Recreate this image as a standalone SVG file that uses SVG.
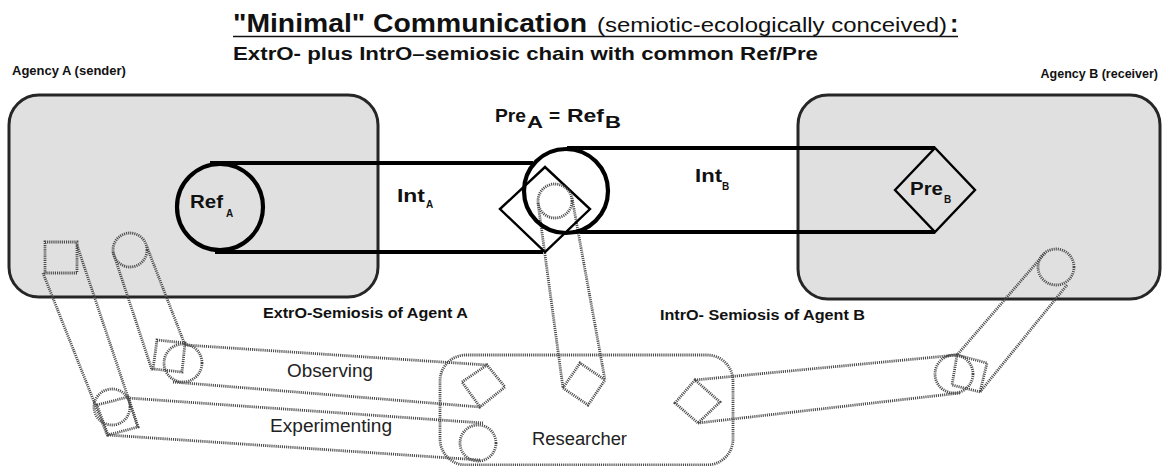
<svg xmlns="http://www.w3.org/2000/svg" width="1164" height="466" viewBox="0 0 1164 466">
<style>
text{font-family:"Liberation Sans",Arial,sans-serif;fill:#111}
.b{font-weight:bold}
.agency{fill:#e0e0e0;stroke:#262626;stroke-width:3}
.thick{fill:none;stroke:#000;stroke-width:4.2}
.thin{fill:none;stroke:#000;stroke-width:2.4}
.dot{fill:none;stroke:#4a4a4a;stroke-width:2.8;stroke-dasharray:1.1 1}
.lbl{font-size:18px;fill:#222}
</style>
<rect width="1164" height="466" fill="#fff"/>
<g id="title">
<text x="233" y="32" class="b" font-size="25" textLength="354" lengthAdjust="spacingAndGlyphs">"Minimal" Communication</text>
<text x="597" y="32" font-size="20" textLength="350" lengthAdjust="spacingAndGlyphs">(semiotic-ecologically conceived)</text>
<text x="950" y="32" class="b" font-size="25">:</text>
<line x1="233" y1="36.5" x2="958" y2="36.5" stroke="#111" stroke-width="1.5"/>
<text x="233" y="60" class="b" font-size="19" textLength="585" lengthAdjust="spacingAndGlyphs">ExtrO- plus IntrO–semiosic chain with common Ref/Pre</text>
</g>
<g id="agencyA">
<rect class="agency" x="9" y="95" width="369" height="202" rx="30"/>
<text x="12" y="75" class="b" font-size="13">Agency A (sender)</text>
</g>
<g id="agencyB">
<rect class="agency" x="798" y="95" width="362" height="204" rx="30"/>
<text x="1158" y="78" class="b" font-size="12.5" text-anchor="end">Agency B (receiver)</text>
</g>
<g id="researcher">
<rect class="dot" x="440" y="355" width="293" height="110" rx="26"/>
<text x="532" y="445" class="lbl" textLength="95" lengthAdjust="spacingAndGlyphs">Researcher</text>
</g>
<g id="connectors">
<line class="thick" x1="210" y1="163" x2="533" y2="163"/>
<line class="thick" x1="215" y1="252" x2="543" y2="252"/>
<line class="thick" x1="567" y1="148" x2="935" y2="148"/>
<line class="thick" x1="573" y1="232" x2="935" y2="232"/>
<line class="dot" x1="43" y1="273" x2="108" y2="437"/>
<line class="dot" x1="77" y1="245" x2="138" y2="427"/>
<line class="dot" x1="113" y1="252" x2="152" y2="370"/>
<line class="dot" x1="147" y1="247" x2="185" y2="345"/>
<line class="dot" x1="185" y1="345" x2="487" y2="365"/>
<line class="dot" x1="173" y1="382" x2="480" y2="407"/>
<line class="dot" x1="128" y1="398" x2="483" y2="423"/>
<line class="dot" x1="108" y1="435" x2="480" y2="460"/>
<line class="dot" x1="538" y1="203" x2="563" y2="388"/>
<line class="dot" x1="572" y1="198" x2="605" y2="380"/>
<line class="dot" x1="695" y1="380" x2="957" y2="355"/>
<line class="dot" x1="698" y1="423" x2="960" y2="393"/>
<line class="dot" x1="1045" y1="253" x2="957" y2="355"/>
<line class="dot" x1="1067" y1="285" x2="980" y2="392"/>
</g>
<g id="refA">
<circle class="thick" cx="220" cy="207" r="43"/>
<text x="190" y="208" class="b" font-size="19" textLength="33" lengthAdjust="spacingAndGlyphs">Ref</text>
<text x="226" y="217" class="b" font-size="10">A</text>
</g>
<g id="intA">
<text x="397" y="202" class="b" font-size="19" textLength="28" lengthAdjust="spacingAndGlyphs">Int</text>
<text x="426" y="208" class="b" font-size="10">A</text>
</g>
<g id="intB">
<text x="695" y="182" class="b" font-size="19" textLength="27" lengthAdjust="spacingAndGlyphs">Int</text>
<text x="722" y="190" class="b" font-size="10">B</text>
</g>
<g id="preA">
<polygon class="thin" points="500,209 545,167 590,209 545,252"/>
<circle class="thick" cx="566" cy="191" r="42"/>
<circle class="dot" cx="555" cy="201" r="17"/>
<text x="495" y="122" class="b" font-size="19" textLength="31" lengthAdjust="spacingAndGlyphs">Pre</text>
<text x="527" y="128" class="b" font-size="17" textLength="16" lengthAdjust="spacingAndGlyphs">A</text>
<text x="549" y="122" class="b" font-size="19">=</text>
<text x="567" y="122" class="b" font-size="19" textLength="37" lengthAdjust="spacingAndGlyphs">Ref</text>
<text x="605" y="128" class="b" font-size="17" textLength="16" lengthAdjust="spacingAndGlyphs">B</text>
</g>
<g id="preB">
<polygon class="thin" points="895,190 935,148 975,190 935,232"/>
<text x="910" y="195" class="b" font-size="19" textLength="33" lengthAdjust="spacingAndGlyphs">Pre</text>
<text x="944" y="203" class="b" font-size="10">B</text>
</g>
<g id="extro-label"><text x="263" y="318" class="b" font-size="14" textLength="205" lengthAdjust="spacingAndGlyphs">ExtrO-Semiosis of Agent A</text></g>
<g id="intro-label"><text x="660" y="320" class="b" font-size="14" textLength="205" lengthAdjust="spacingAndGlyphs">IntrO- Semiosis of Agent B</text></g>
<g id="observing">
<text x="287" y="377" class="lbl" textLength="86" lengthAdjust="spacingAndGlyphs">Observing</text>
</g>
<g id="experimenting">
<text x="270" y="432" class="lbl" textLength="122" lengthAdjust="spacingAndGlyphs">Experimenting</text>
</g>
<g id="linkage-shapes">
<rect class="dot" x="45" y="242" width="32" height="31"/>
<circle class="dot" cx="130" cy="250" r="17"/>
<polygon class="dot" points="157,340 185,343 182,372 153,369"/>
<circle class="dot" cx="183" cy="363" r="19"/>
<polygon class="dot" points="97,405 128,397 138,427 108,435"/>
<circle class="dot" cx="112" cy="407" r="18"/>
<polygon class="dot" points="462,382 487,365 505,387 480,407"/>
<circle class="dot" cx="478" cy="443" r="18"/>
<polygon class="dot" points="563,388 580,363 605,380 588,405"/>
<polygon class="dot" points="675,403 695,380 720,402 698,423"/>
<polygon class="dot" points="957,355 987,363 980,392 952,385"/>
<circle class="dot" cx="954" cy="374" r="19"/>
<circle class="dot" cx="1056" cy="267" r="18"/>
</g>
</svg>
